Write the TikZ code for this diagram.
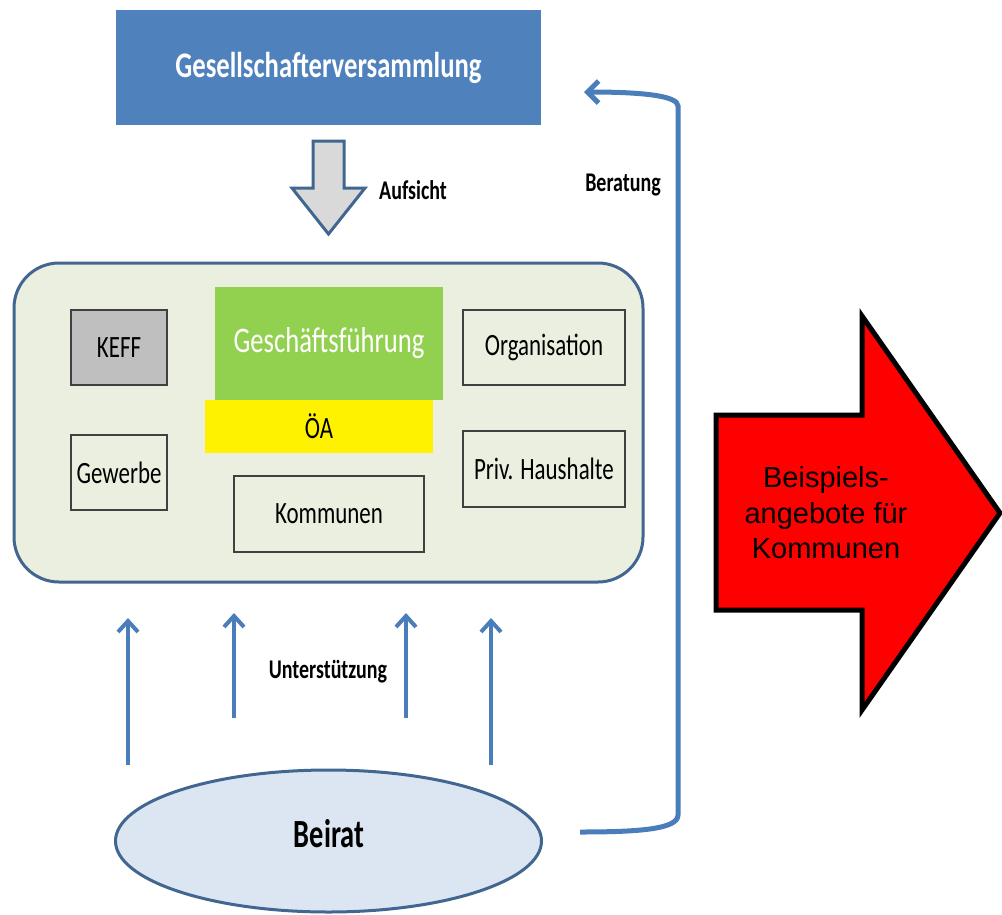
\documentclass[tikz,border=0pt]{standalone}
\usepackage{fontspec}
\usetikzlibrary{arrows.meta,calc,shapes.geometric}
\newfontfamily\calN[FakeStretch=0.74]{Carlito}
\newfontfamily\calB[FakeStretch=0.71]{Carlito}
\newfontfamily\arialf{Liberation Sans}
\definecolor{gvblue}{HTML}{4F81BD}
\definecolor{framefill}{HTML}{EBEFDF}
\definecolor{frameline}{HTML}{41668F}
\definecolor{gfgreen}{HTML}{92D050}
\definecolor{keffgray}{HTML}{BFBFBF}
\definecolor{boxline}{HTML}{404040}
\definecolor{arrowblue}{HTML}{4A7EBB}
\definecolor{beiratfill}{HTML}{DCE6F2}
\definecolor{blockgray}{HTML}{D9D9D9}
\tikzset{
  plain/.style={inner sep=0pt, outer sep=0pt},
  innerbox/.style={plain, draw=boxline, line width=1.5pt, fill=framefill, text=black,
    font=\calN\fontsize{31}{34}\selectfont},
  lbl/.style={plain, text=black, font=\calN\bfseries\fontsize{27}{30}\selectfont},
  uparrow/.style={draw=arrowblue, line width=4pt, -{Straight Barb[length=11pt,width=20pt,line width=4pt]}},
}
\begin{document}
\begin{tikzpicture}[x=1pt,y=-1pt]
\useasboundingbox (0,0) rectangle (1002,914);
% top box
\node[plain, fill=gvblue, minimum width=425, minimum height=115, text=white,
  font=\calN\bfseries\fontsize{36}{40}\selectfont] (gv) at (328.5,67.5) {Gesellschafterversammlung};
% Aufsicht block arrow
\draw[draw=frameline, fill=blockgray, line width=3pt, line join=miter]
  (313,141) -- (344,141) -- (344,188) -- (365,188) -- (328.5,234) -- (292,188) -- (313,188) -- cycle;
\node[lbl] (aufsicht) at (413,190) {Aufsicht};
\node[lbl] (beratung) at (623,185) {Beratung};
% frame
\node[plain, draw=frameline, fill=framefill, line width=3pt, rounded corners=45pt,
  minimum width=629, minimum height=319] (frame) at (328.5,422.5) {};
\node[innerbox, fill=keffgray, minimum width=96, minimum height=75] (keff) at (119,347.5) {KEFF};
\node[plain, fill=gfgreen, minimum width=228, minimum height=113, text=white,
  font=\calN\fontsize{36}{40}\selectfont] (gf) at (329,343.5) {\raisebox{2pt}{Geschäftsführung}};
\node[plain, fill=yellow, minimum width=228, minimum height=53, text=black,
  font=\calN\fontsize{31}{34}\selectfont] (oa) at (319,426.5) {ÖA};
\node[innerbox, minimum width=162, minimum height=75] (org) at (544,347.5) {Organisation};
\node[innerbox, minimum width=96, minimum height=75] (gew) at (119,472.5) {Gewerbe};
\node[innerbox, minimum width=162, minimum height=76] (priv) at (544,469) {Priv. Haushalte};
\node[innerbox, minimum width=190, minimum height=76] (kom) at (329,514) {Kommunen};
% Beirat
\node[plain, ellipse, draw=frameline, fill=beiratfill, line width=3pt,
  minimum width=426, minimum height=142] (beirat) at (328.5,841) {};
\node[plain, text=black, font=\calB\bfseries\fontsize{40}{44}\selectfont] (beirattext) at (329,834) {Beirat};
% support arrows
\coordinate (s1a) at (128,765); \coordinate (s1b) at (128,618);
\coordinate (s2a) at (234,718); \coordinate (s2b) at (234,613);
\coordinate (s3a) at (406,718); \coordinate (s3b) at (406,613);
\coordinate (s4a) at (491,765); \coordinate (s4b) at (491,618);
\draw[uparrow] (s1a) -- (s1b);
\draw[uparrow] (s2a) -- (s2b);
\draw[uparrow] (s3a) -- (s3b);
\draw[uparrow] (s4a) -- (s4b);
\node[lbl] (unterst) at (328,672) {Unterstützung};
% Beratung connector
\coordinate (bstart) at ($(beirat.east)+(38.5,-9)$);
\coordinate (bend) at ($(gv.east)+(43,24.5)$);
\draw[draw=arrowblue, line width=5pt, -{Straight Barb[length=11pt,width=22pt,line width=5pt]}]
  (bstart) .. controls ($(bstart)+(60,0)$) and (678,829) .. (678,815)
  -- (678,106) .. controls (678,96) and ($(bend)+(60,0)$) .. (bend);
% red arrow
\draw[fill=red, draw=black, line width=5pt, line join=miter]
  (716,415) -- (862,415) -- (862,316) -- (1000,513) -- (862,710) -- (862,610) -- (716,610) -- cycle;
\node[plain, align=center, text=black, font=\arialf\fontsize{29}{35.5}\selectfont] (beisp) at (826,513)
  {Beispiels-\\angebote für\\Kommunen};
\end{tikzpicture}
\end{document}
